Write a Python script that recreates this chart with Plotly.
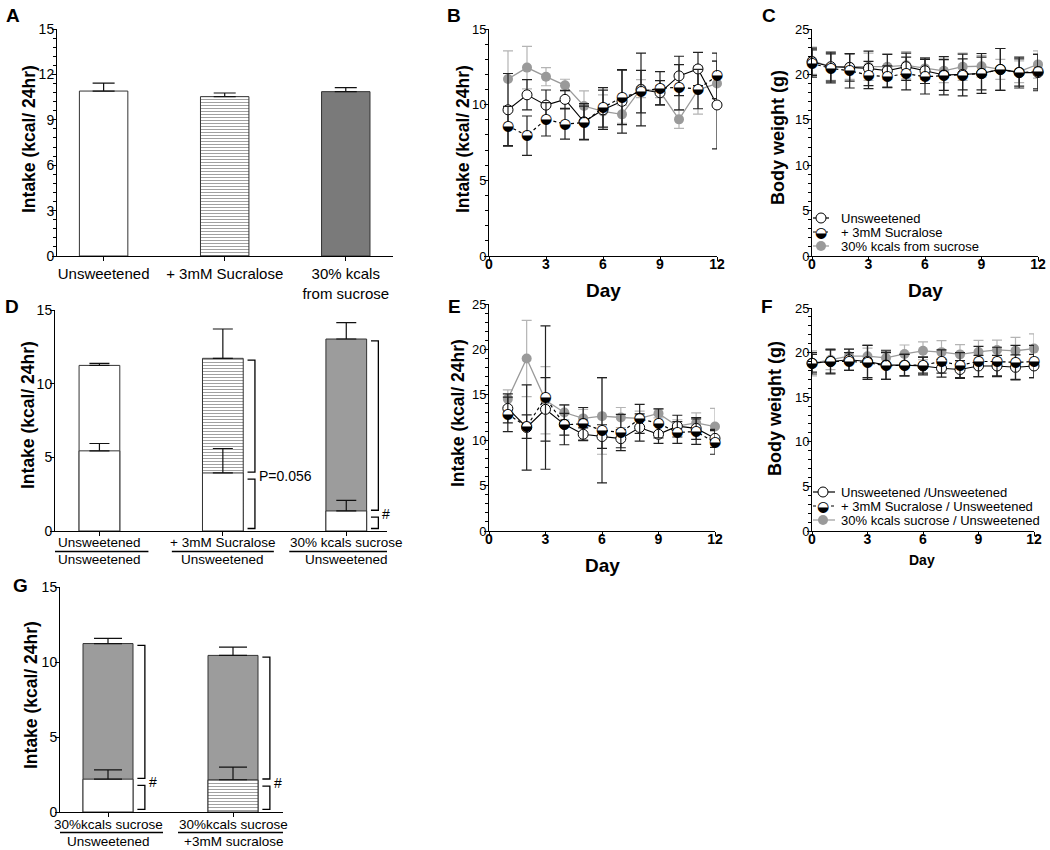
import plotly.graph_objects as go

W, H = 1050, 850
FONT = "Arial, 'Liberation Sans', Helvetica, sans-serif"
GLYPH_FONT = "DejaVu Sans"
GREY = "#9a9a9a"
GREY_ERR = "#b4b4b4"
BAR_GREY_A = "#7a7a7a"
BAR_GREY = "#9c9c9c"
HALF = "\u25D2"  # circle with lower half black

# ---------------- data ----------------
# Panel A: average intake
a_labels = ["Unsweetened", "+ 3mM Sucralose", "30% kcals<br>from sucrose"]
a_intake = [10.90, 10.53, 10.86]
a_sem = [0.53, 0.24, 0.27]

# Panel B: daily intake (single diet)
b_days = [1, 2, 3, 4, 5, 6, 7, 8, 9, 10, 11, 12]
b_unsw = [9.66, 10.65, 9.97, 10.35, 8.87, 9.66, 10.22, 11.00, 10.79, 11.90, 12.36, 9.98]
b_unsw_sem = [2.4, 1.0, 1.0, 0.6, 1.2, 1.3, 2.1, 2.4, 0.8, 1.3, 1.1, 2.9]
b_sucr = [8.59, 7.95, 9.03, 8.72, 8.81, 9.82, 10.48, 10.86, 11.08, 11.15, 11.03, 11.90]
b_sucr_sem = [1.3, 1.3, 1.1, 1.0, 1.1, 1.3, 1.8, 1.4, 1.1, 1.5, 1.3, 1.5]
b_sucrose = [11.70, 12.45, 11.85, 11.28, 9.91, 9.55, 9.36, 11.06, 10.86, 9.03, 10.97, 11.40]
b_sucrose_sem = [1.85, 1.4, 0.6, 0.4, 1.0, 1.1, 0.6, 0.6, 0.4, 0.6, 1.6, 1.5]

# Panel C: body weight (single diet)
c_days = [0, 1, 2, 3, 4, 5, 6, 7, 8, 9, 10, 11, 12]
c_unsw = [21.4, 20.85, 20.77, 20.66, 20.40, 20.85, 20.40, 19.93, 20.00, 20.10, 20.55, 20.20, 20.20]
c_unsw_sem = [1.5, 1.6, 1.5, 1.9, 1.8, 1.5, 1.4, 1.7, 1.7, 1.8, 2.3, 1.5, 2.0]
c_sucr = [21.2, 20.66, 20.40, 19.93, 19.74, 20.10, 19.74, 19.85, 19.93, 20.10, 20.55, 20.20, 20.30]
c_sucr_sem = [1.5, 1.6, 1.9, 1.5, 1.2, 1.8, 1.9, 2.1, 2.3, 2.2, 2.3, 1.7, 1.9]
c_sucrose = [21.5, 20.85, 20.85, 20.85, 20.85, 21.00, 20.66, 20.40, 20.85, 20.90, 20.55, 20.30, 21.10]
c_sucrose_sem = [1.5, 1.5, 1.4, 1.5, 1.4, 1.5, 1.2, 1.3, 1.5, 1.2, 1.1, 1.2, 1.5]

# Panel D: two-choice intake (total and unsweetened portion)
d_top_labels = ["Unsweetened", "+ 3mM Sucralose", "30% kcals sucrose"]
d_bottom_labels = ["Unsweetened", "Unsweetened", "Unsweetened"]
d_total = [11.24, 11.72, 13.03]
d_total_sem = [0.14, 1.99, 1.11]
d_unsw_part = [5.44, 3.94, 1.36]
d_unsw_part_sem = [0.50, 1.66, 0.72]
d_stats = ["", "P=0.056", "#"]

# Panel E: daily intake (two-choice)
e_days = [1, 2, 3, 4, 5, 6, 7, 8, 9, 10, 11, 12]
e_unsw = [13.50, 11.40, 13.40, 11.75, 10.65, 10.40, 10.17, 11.40, 10.65, 11.55, 11.30, 10.20]
e_unsw_sem = [1.6, 4.7, 3.5, 1.2, 0.7, 1.3, 1.0, 1.5, 1.0, 1.2, 1.2, 1.0]
e_sucr = [12.85, 11.50, 14.70, 11.70, 11.80, 11.10, 10.85, 12.35, 11.85, 10.85, 10.95, 9.75]
e_sucr_sem = [1.9, 1.3, 7.9, 2.2, 1.8, 5.8, 2.0, 1.6, 1.6, 1.2, 1.4, 1.3]
e_sucrose = [14.55, 19.00, 14.40, 13.05, 12.40, 12.65, 12.50, 12.40, 12.95, 11.55, 11.90, 11.50]
e_sucrose_sem = [1.0, 4.2, 3.7, 0.8, 1.0, 4.2, 1.1, 0.8, 0.5, 0.7, 1.1, 2.0]

# Panel F: body weight (two-choice)
f_days = [0, 1, 2, 3, 4, 5, 6, 7, 8, 9, 10, 11, 12]
f_unsw = [18.8, 19.0, 19.2, 19.0, 18.6, 18.6, 18.5, 18.25, 18.1, 18.5, 18.5, 18.35, 18.5]
f_unsw_sem = [1.2, 1.4, 1.2, 1.8, 1.6, 1.2, 1.0, 1.0, 1.0, 1.2, 1.2, 1.4, 1.3]
f_sucr = [18.8, 19.0, 19.0, 18.9, 18.5, 18.6, 18.6, 19.0, 18.6, 19.0, 19.0, 18.9, 19.0]
f_sucr_sem = [1.0, 1.3, 1.0, 1.9, 1.5, 1.2, 0.9, 1.3, 1.4, 1.7, 1.6, 1.9, 1.8]
f_sucrose = [18.8, 19.2, 19.6, 19.6, 19.4, 19.85, 20.2, 20.05, 19.8, 20.07, 20.3, 20.2, 20.45]
f_sucrose_sem = [1.4, 1.1, 0.8, 0.9, 0.9, 1.0, 1.0, 1.3, 1.1, 1.3, 1.1, 1.5, 1.65]

# Panel G: sucrose vs unsweetened / sucralose choice
g_top_labels = ["30%kcals sucrose", "30%kcals sucrose"]
g_bottom_labels = ["Unsweetened", "+3mM sucralose"]
g_total = [11.23, 10.44]
g_total_sem = [0.34, 0.55]
g_second_part = [2.19, 2.15]
g_second_part_sem = [0.62, 0.84]
g_stats = ["#", "#"]

legend_c = ["Unsweetened", "+ 3mM Sucralose", "30% kcals from sucrose"]
legend_f = ["Unsweetened /Unsweetened", "+ 3mM Sucralose / Unsweetened",
            "30% kcals sucrose / Unsweetened"]


# ---------------- helpers ----------------
def dom_x(p0, p1):
    return [p0 / W, p1 / W]


def dom_y(top, bottom):
    return [1 - bottom / H, 1 - top / H]


def px(x):
    return x / W


def py(y):
    return 1 - y / H


fig = go.Figure()
annotations = []
shapes = []

base_axis = dict(showline=True, linecolor="black", linewidth=1, ticks="outside",
                 ticklen=4, tickwidth=1, tickcolor="black", showgrid=False,
                 zeroline=False, fixedrange=True,
                 tickfont=dict(family=FONT, size=13, color="black"))
YSTAND = -5
XSTAND = -9


def minor(dt):
    return dict(ticks="outside", ticklen=3, tickwidth=1, tickcolor="black",
                dtick=dt, showgrid=False)


layout_axes = {}
# A
layout_axes["xaxis"] = dict(base_axis, domain=dom_x(57, 393), anchor="y",
                            range=[-0.385, 2.39], tickvals=[0, 1, 2], ticktext=a_labels,
                            tickfont=dict(family=FONT, size=15, color="black"))
layout_axes["yaxis"] = dict(base_axis, domain=dom_y(29, 256), anchor="x",
                            range=[0, 15], tick0=0, dtick=3, minor=minor(0.6),
                            ticklabelstandoff=YSTAND,
                            tickfont=dict(family=FONT, size=14, color="black"))
# B
bold_ticks = dict(family=FONT, size=14, color="black", weight="bold")
layout_axes["xaxis2"] = dict(base_axis, domain=dom_x(489, 717), anchor="y2",
                             range=[0, 12], tick0=0, dtick=3, tickfont=bold_ticks,
                             ticklabelstandoff=XSTAND)
layout_axes["yaxis2"] = dict(base_axis, domain=dom_y(29, 256), anchor="x2",
                             range=[0, 15], tick0=0, dtick=5, minor=minor(1),
                             ticklabelstandoff=YSTAND)
# C
layout_axes["xaxis3"] = dict(base_axis, domain=dom_x(812, 1038), anchor="y3",
                             range=[0, 12], tick0=0, dtick=3, tickfont=bold_ticks,
                             ticklabelstandoff=XSTAND)
layout_axes["yaxis3"] = dict(base_axis, domain=dom_y(29, 256), anchor="x3",
                             range=[0, 25], tick0=0, dtick=5, minor=minor(1),
                             ticklabelstandoff=YSTAND)
# D
layout_axes["xaxis4"] = dict(base_axis, domain=dom_x(55, 387), anchor="y4",
                             range=[-0.36, 2.33], tickvals=[0, 1, 2], showticklabels=False)
layout_axes["yaxis4"] = dict(base_axis, domain=dom_y(310, 531), anchor="x4",
                             range=[0, 15], tick0=0, dtick=5, ticklabelstandoff=YSTAND,
                             tickfont=dict(family=FONT, size=14, color="black"))
# E
layout_axes["xaxis5"] = dict(base_axis, domain=dom_x(489, 715), anchor="y5",
                             range=[0, 12], tick0=0, dtick=3, tickfont=bold_ticks,
                             ticklabelstandoff=XSTAND)
layout_axes["yaxis5"] = dict(base_axis, domain=dom_y(304, 531), anchor="x5",
                             range=[0, 25], tick0=0, dtick=5, minor=minor(1),
                             ticklabelstandoff=YSTAND)
# F
layout_axes["xaxis6"] = dict(base_axis, domain=dom_x(812, 1034), anchor="y6",
                             range=[0, 12], tick0=0, dtick=3, tickfont=bold_ticks,
                             ticklabelstandoff=XSTAND)
layout_axes["yaxis6"] = dict(base_axis, domain=dom_y(308, 531), anchor="x6",
                             range=[0, 25], tick0=0, dtick=5, minor=minor(1),
                             ticklabelstandoff=YSTAND)
# G
layout_axes["xaxis7"] = dict(base_axis, domain=dom_x(60, 283), anchor="y7",
                             range=[-0.384, 1.4], tickvals=[0, 1], showticklabels=False)
layout_axes["yaxis7"] = dict(base_axis, domain=dom_y(587, 812), anchor="x7",
                             range=[0, 15], tick0=0, dtick=5, ticklabelstandoff=YSTAND,
                             tickfont=dict(family=FONT, size=14, color="black"))

# ---------------- Panel A bars ----------------
fig.add_trace(go.Bar(
    x=[0, 1, 2], y=a_intake, width=0.4, xaxis="x", yaxis="y",
    marker=dict(color=["white", "white", BAR_GREY_A],
                line=dict(color="#333", width=1),
                pattern=dict(shape=["", "-", ""], fgcolor="#333", bgcolor="white",
                             size=3, solidity=0.35)),
    error_y=dict(type="data", array=a_sem, arrayminus=[0] * 3, symmetric=False,
                 color="#111", thickness=1.2, width=11),
    showlegend=False, hoverinfo="skip"))


# ---------------- stacked two-choice bars ----------------
def stacked(xa, ya, total, total_sem, part, part_sem, width,
            top_colors, top_pattern, low_colors, low_pattern, capw):
    n = len(total)
    xs = list(range(n))
    fig.add_trace(go.Bar(
        x=xs, y=total, width=width, xaxis=xa, yaxis=ya,
        marker=dict(color=top_colors, line=dict(color="#333", width=1),
                    pattern=dict(shape=top_pattern, fgcolor="#333", bgcolor="white",
                                 size=3, solidity=0.35)),
        error_y=dict(type="data", array=total_sem, arrayminus=[0] * n,
                     symmetric=False, color="#111", thickness=1.2, width=capw),
        showlegend=False, hoverinfo="skip"))
    fig.add_trace(go.Bar(
        x=xs, y=part, width=width, xaxis=xa, yaxis=ya,
        marker=dict(color=low_colors, line=dict(color="#333", width=1),
                    pattern=dict(shape=low_pattern, fgcolor="#333", bgcolor="white",
                                 size=3, solidity=0.35)),
        error_y=dict(type="data", array=part_sem, arrayminus=[0] * n,
                     symmetric=False, color="#111", thickness=1.2, width=capw),
        showlegend=False, hoverinfo="skip"))


stacked("x4", "y4", d_total, d_total_sem, d_unsw_part, d_unsw_part_sem, 0.33,
        ["white", "white", BAR_GREY], ["", "-", ""], ["white"] * 3, ["", "", ""], 10)
stacked("x7", "y7", g_total, g_total_sem, g_second_part, g_second_part_sem, 0.4,
        [BAR_GREY, BAR_GREY], ["", ""], ["white", "white"], ["", "-"], 14)


def brackets(xref, yref, total, part, stats, width):
    for i, s in enumerate(stats):
        if not s:
            continue
        xin = i + width / 2 + 0.035
        xout = i + width / 2 + 0.095
        segs = [(part[i] + 0.05, total[i] - 0.12), (0.17, part[i] - 0.42)]
        for lo, hi in segs:
            shapes.append(dict(type="path", xref=xref, yref=yref,
                               path=f"M {xin},{hi} L {xout},{hi} L {xout},{lo} L {xin},{lo}",
                               line=dict(color="black", width=1.3)))
        annotations.append(dict(text=s, xref=xref, yref=yref, x=xout + 0.015,
                                y=part[i] - 0.2, xanchor="left", yanchor="middle",
                                showarrow=False,
                                font=dict(family=FONT, size=14, color="black")))


brackets("x4", "y4", d_total, d_unsw_part, d_stats, 0.33)
brackets("x7", "y7", g_total, g_second_part, g_stats, 0.4)


def two_line_labels(xref, tops, bottoms, y_top, y_line, y_bot, halfw):
    for i, (t, b) in enumerate(zip(tops, bottoms)):
        annotations.append(dict(text=t, xref=xref, yref="paper", x=i, y=py(y_top),
                                xanchor="center", yanchor="middle", showarrow=False,
                                font=dict(family=FONT, size=13.5, color="black")))
        annotations.append(dict(text=b, xref=xref, yref="paper", x=i, y=py(y_bot),
                                xanchor="center", yanchor="middle", showarrow=False,
                                font=dict(family=FONT, size=13.5, color="black")))
        shapes.append(dict(type="line", xref=xref, yref="paper", xsizemode="pixel",
                           xanchor=i, x0=-halfw[i], x1=halfw[i], y0=py(y_line),
                           y1=py(y_line), line=dict(color="black", width=1.3)))


two_line_labels("x4", d_top_labels, d_bottom_labels, 542, 551.5, 559, [49, 51, 57])
two_line_labels("x7", g_top_labels, g_bottom_labels, 824, 832.5, 841, [55, 55])


# ---------------- line series ----------------
def series(xa, ya, x, y, err, kind):
    if kind == "grey":
        fig.add_trace(go.Scatter(
            x=x, y=y, xaxis=xa, yaxis=ya, mode="lines+markers",
            line=dict(color=GREY, width=1.3),
            marker=dict(symbol="circle", size=10, color=GREY, line=dict(width=0)),
            error_y=dict(type="data", array=err, color=GREY_ERR, thickness=1.2, width=5),
            cliponaxis=False, showlegend=False, hoverinfo="skip"))
    elif kind == "open":
        fig.add_trace(go.Scatter(
            x=x, y=y, xaxis=xa, yaxis=ya, mode="lines+markers",
            line=dict(color="black", width=1.1),
            marker=dict(symbol="circle", size=10, color="white",
                        line=dict(color="black", width=1)),
            error_y=dict(type="data", array=err, color="#222", thickness=1.2, width=5),
            cliponaxis=False, showlegend=False, hoverinfo="skip"))
    else:
        fig.add_trace(go.Scatter(
            x=x, y=y, xaxis=xa, yaxis=ya, mode="lines+markers",
            line=dict(color="black", width=1.2, dash="dot"),
            marker=dict(symbol="circle", size=9, color="white", line=dict(width=0)),
            error_y=dict(type="data", array=err, color="#222", thickness=1.2, width=5),
            cliponaxis=False, showlegend=False, hoverinfo="skip"))
        fig.add_trace(go.Scatter(
            x=x, y=y, xaxis=xa, yaxis=ya, mode="text", text=[HALF] * len(x),
            textposition="middle center",
            textfont=dict(family=GLYPH_FONT, size=14, color="black"),
            cliponaxis=False, showlegend=False, hoverinfo="skip"))


series("x2", "y2", b_days, b_sucrose, b_sucrose_sem, "grey")
series("x2", "y2", b_days, b_unsw, b_unsw_sem, "open")
series("x2", "y2", b_days, b_sucr, b_sucr_sem, "half")

series("x3", "y3", c_days, c_sucrose, c_sucrose_sem, "grey")
series("x3", "y3", c_days, c_unsw, c_unsw_sem, "open")
series("x3", "y3", c_days, c_sucr, c_sucr_sem, "half")

series("x5", "y5", e_days, e_sucrose, e_sucrose_sem, "grey")
series("x5", "y5", e_days, e_unsw, e_unsw_sem, "open")
series("x5", "y5", e_days, e_sucr, e_sucr_sem, "half")

series("x6", "y6", f_days, f_sucrose, f_sucrose_sem, "grey")
series("x6", "y6", f_days, f_unsw, f_unsw_sem, "open")
series("x6", "y6", f_days, f_sucr, f_sucr_sem, "half")


# ---------------- manual legends ----------------
def legend(labels, rows, x_line0, x_line1, x_mark, x_text):
    kinds = ["open", "half", "grey"]
    for lab, yy, k in zip(labels, rows, kinds):
        col = GREY if k == "grey" else "black"
        dash = "dot" if k == "half" else "solid"
        shapes.append(dict(type="line", xref="paper", yref="paper",
                           x0=px(x_line0), x1=px(x_line1), y0=py(yy), y1=py(yy),
                           line=dict(color=col, width=1.2, dash=dash)))
        fill = GREY if k == "grey" else "white"
        lw = 0 if k != "open" else 1
        shapes.append(dict(type="circle", xref="paper", yref="paper",
                           xsizemode="pixel", ysizemode="pixel",
                           xanchor=px(x_mark), yanchor=py(yy),
                           x0=-5, x1=5, y0=-5, y1=5, fillcolor=fill,
                           line=dict(color="black" if k == "open" else fill, width=lw)))
        if k == "half":
            annotations.append(dict(text=HALF, xref="paper", yref="paper",
                                    x=px(x_mark), y=py(yy), xanchor="center",
                                    yanchor="middle", showarrow=False,
                                    font=dict(family=GLYPH_FONT, size=14, color="black")))
        annotations.append(dict(text=lab, xref="paper", yref="paper", x=px(x_text),
                                y=py(yy), xanchor="left", yanchor="middle",
                                showarrow=False,
                                font=dict(family=FONT, size=13, color="black")))


legend(legend_c, [218, 232, 246], 813, 829, 821, 839)
legend(legend_f, [492, 506, 520], 813, 835, 823, 839)


# ---------------- titles / panel letters ----------------
def ytitle(text, x, y, size=17.5):
    annotations.append(dict(text=f"<b>{text}</b>", xref="paper", yref="paper",
                            x=px(x), y=py(y), textangle=-90, xanchor="center",
                            yanchor="middle", showarrow=False,
                            font=dict(family=FONT, size=size, color="black")))


def xtitle(text, x, y, size=19):
    annotations.append(dict(text=f"<b>{text}</b>", xref="paper", yref="paper",
                            x=px(x), y=py(y), xanchor="center", yanchor="middle",
                            showarrow=False, font=dict(family=FONT, size=size, color="black")))


ytitle("Intake (kcal/ 24hr)", 29, 139)
ytitle("Intake (kcal/ 24hr)", 463, 139)
ytitle("Body weight (g)", 778, 138, size=18)
ytitle("Intake (kcal/ 24hr)", 28, 415)
ytitle("Intake (kcal/ 24hr)", 458, 413)
ytitle("Body weight (g)", 775, 409, size=18)
ytitle("Intake (kcal/ 24hr)", 31, 695)
xtitle("Day", 603, 291)
xtitle("Day", 925, 291)
xtitle("Day", 602, 565)
xtitle("Day", 922, 560, size=14)

for letter, x, y in [("A", 13, 15), ("B", 454, 15), ("C", 769, 15), ("D", 12, 306),
                     ("E", 454, 306), ("F", 767, 306), ("G", 20, 585)]:
    annotations.append(dict(text=f"<b>{letter}</b>", xref="paper", yref="paper",
                            x=px(x), y=py(y), xanchor="center", yanchor="middle",
                            showarrow=False, font=dict(family=FONT, size=19, color="black")))

fig.update_layout(
    width=W, height=H, margin=dict(l=0, r=0, t=0, b=0, autoexpand=False),
    paper_bgcolor="white", plot_bgcolor="white", barmode="overlay",
    font=dict(family=FONT, color="black"), showlegend=False,
    annotations=annotations, shapes=shapes, **layout_axes)

fig.write_html("out.html", config={"displayModeBar": False},
               post_script="document.body.style.margin='0';")
